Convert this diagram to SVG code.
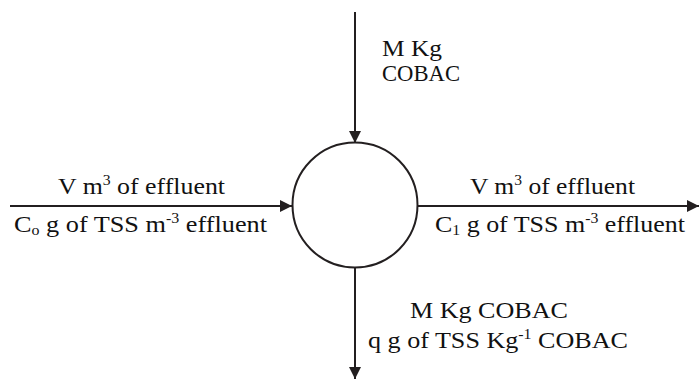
<svg xmlns="http://www.w3.org/2000/svg" width="699" height="379" viewBox="0 0 699 379">
<style>
text{font-family:"Liberation Serif","Times New Roman","DejaVu Serif",serif;font-size:23px;fill:#111}
.c{fill:none;stroke:#231f20;stroke-width:2}
.s{font-size:14px}
</style>
<defs>
<marker id="a" viewBox="0 0 10 10" refX="10" refY="5" markerWidth="15" markerHeight="12" markerUnits="userSpaceOnUse" orient="auto">
<path d="M0,0 L10,5 L0,10 z" fill="#231f20"/>
</marker>
</defs>
<rect width="699" height="379" fill="#fff"/>
<g id="connectors">
<line class="c" x1="355" y1="12" x2="355" y2="143" marker-end="url(#a)"/>
<line class="c" x1="10" y1="206" x2="292" y2="206" marker-end="url(#a)"/>
<line class="c" x1="418" y1="206" x2="699" y2="206" marker-end="url(#a)"/>
<line class="c" x1="355" y1="268" x2="355" y2="379" marker-end="url(#a)"/>
</g>
<g id="tank">
<circle cx="355" cy="205" r="62.5" fill="#fff" stroke="#231f20" stroke-width="2"/>
</g>
<g id="labels">
<text x="382" y="56" textLength="60" lengthAdjust="spacingAndGlyphs">M Kg</text>
<text x="382" y="81" textLength="78" lengthAdjust="spacingAndGlyphs">COBAC</text>
<text x="58" y="194" textLength="167" lengthAdjust="spacingAndGlyphs">V m<tspan class="s" dy="-9">3</tspan><tspan dy="9"> of effluent</tspan></text>
<text x="14" y="232" textLength="253" lengthAdjust="spacingAndGlyphs">C<tspan class="s" dy="3">o</tspan><tspan dy="-3"> g of TSS m</tspan><tspan class="s" dy="-9">-3</tspan><tspan dy="9"> effluent</tspan></text>
<text x="470" y="194" textLength="165" lengthAdjust="spacingAndGlyphs">V m<tspan class="s" dy="-9">3</tspan><tspan dy="9"> of effluent</tspan></text>
<text x="435" y="232" textLength="250" lengthAdjust="spacingAndGlyphs">C<tspan class="s" dy="3">1</tspan><tspan dy="-3"> g of TSS m</tspan><tspan class="s" dy="-9">-3</tspan><tspan dy="9"> effluent</tspan></text>
<text x="410" y="318" textLength="158" lengthAdjust="spacingAndGlyphs">M Kg COBAC</text>
<text x="368" y="348" textLength="260" lengthAdjust="spacingAndGlyphs">q g of TSS Kg<tspan class="s" dy="-9">-1</tspan><tspan dy="9"> COBAC</tspan></text>
</g>
</svg>
